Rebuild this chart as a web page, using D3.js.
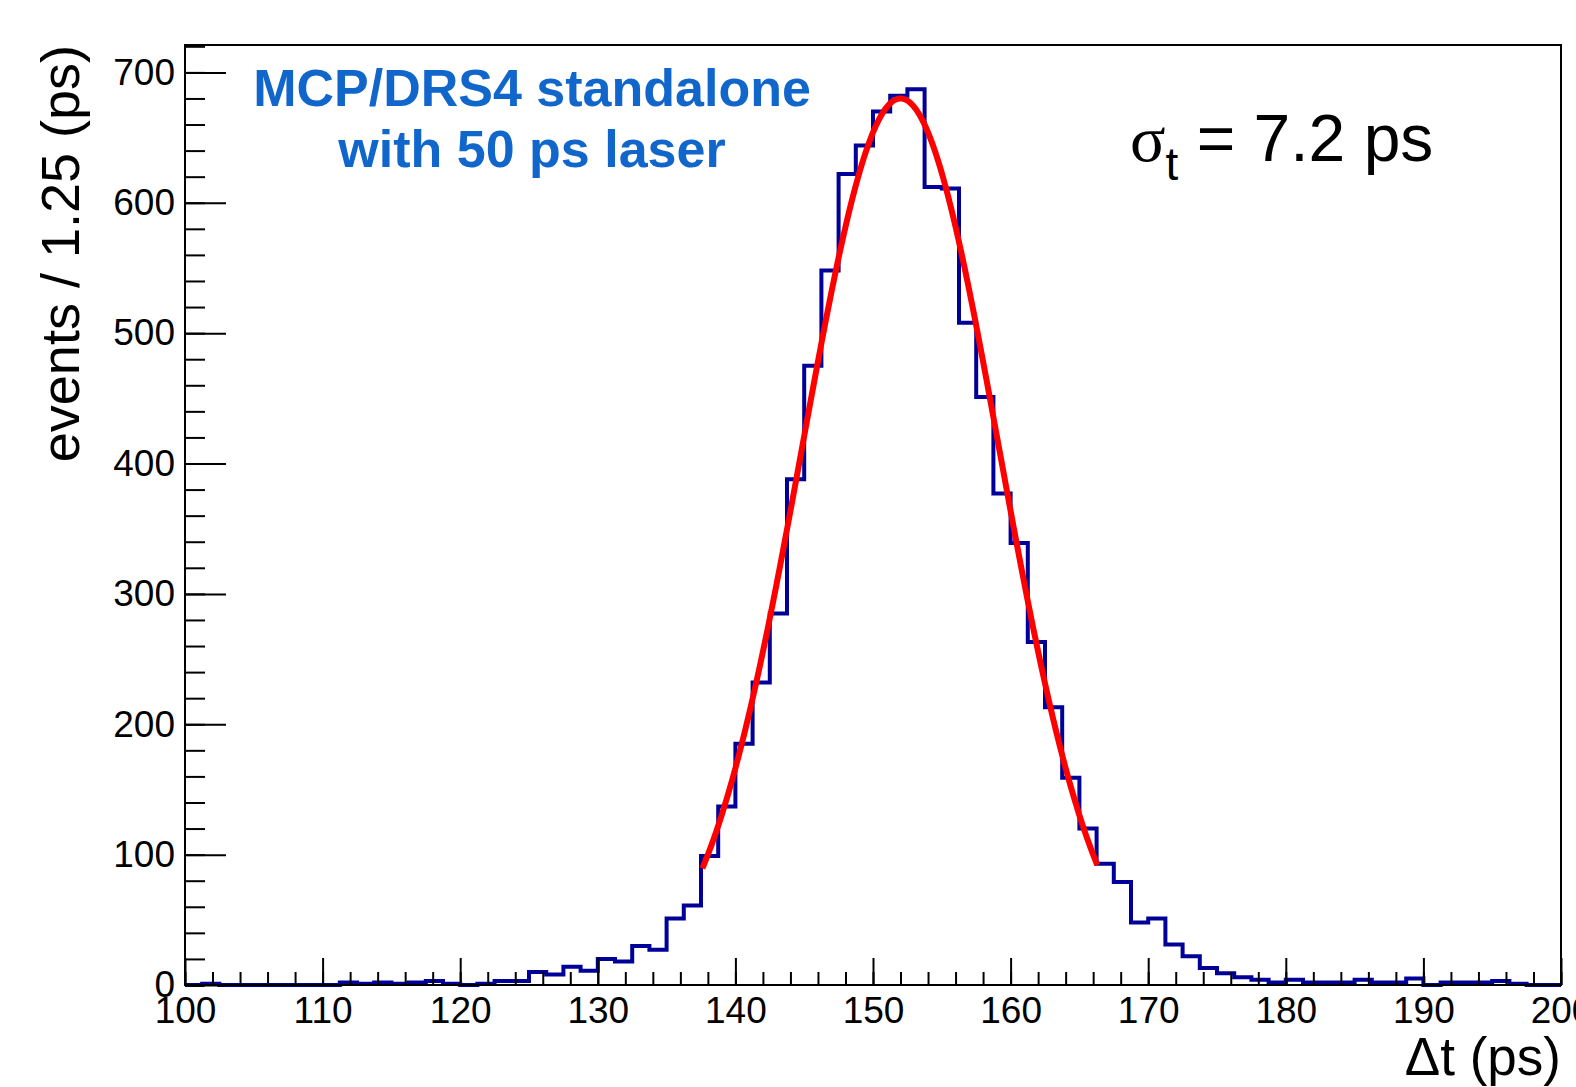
<!DOCTYPE html>
<html>
<head>
<meta charset="utf-8">
<script src="https://cdn.jsdelivr.net/npm/d3@7"></script>
<style>
  body { margin: 0; background: #fff; }
  svg { display: block; font-family: "Liberation Sans", Arial, sans-serif; }
</style>
</head>
<body>
<div id="content"></div>
<script>
// histogram: 80 bins of 1.25 ps between 100 and 200 ps
const binLow = 100;
const binWidth = 1.25;
const counts = [
  0, 1, 0, 0, 0, 0, 0, 0, 0, 2,
  1, 2, 1, 2, 3, 1, 0, 1, 3, 3,
  10, 8, 14, 11, 20, 18, 30, 27, 51, 61,
  99, 137, 185, 232, 285, 388, 475, 548, 622, 644,
  670, 682, 687, 612, 611, 508, 451, 377, 339, 263,
  213, 159, 120, 93, 79, 48, 51, 31, 22, 13,
  9, 6, 4, 2, 4, 2, 2, 2, 4, 2,
  2, 5, 0, 2, 2, 2, 3, 1, 0, 0,
];

// gaussian fit shown in red
const fitAmp = 680;
const fitMean = 152.0;
const fitSigma = 7.15;
const fitRange = [137.6, 166.3];

const xTicksMajor = [100, 110, 120, 130, 140, 150, 160, 170, 180, 190, 200];
const yTicksMajor = [0, 100, 200, 300, 400, 500, 600, 700];

const W = 1576, H = 1087;
const frame = { left: 185, right: 1561, top: 45, bottom: 985 };

const svg = d3
  .select("#content")
  .append("svg")
  .attr("width", W)
  .attr("height", H);

const x = d3.scaleLinear().domain([100, 200]).range([frame.left, frame.right]);
const y = d3.scaleLinear().domain([0, 721]).range([frame.bottom, frame.top]);

// histogram outline
const pts = counts.map((c, i) => [binLow + i * binWidth, c]);
pts.push([binLow + counts.length * binWidth, counts[counts.length - 1]]);

svg
  .append("path")
  .datum(pts)
  .attr("fill", "none")
  .attr("stroke", "#000099")
  .attr("stroke-width", 4)
  .attr(
    "d",
    d3
      .line()
      .x((d) => x(d[0]))
      .y((d) => y(d[1]))
      .curve(d3.curveStepAfter),
  );

// fit curve
const fitPts = d3
  .range(fitRange[0], fitRange[1] + 0.001, 0.1)
  .map((t) => [t, fitAmp * Math.exp(-((t - fitMean) ** 2) / (2 * fitSigma ** 2))]);

svg
  .append("path")
  .datum(fitPts)
  .attr("fill", "none")
  .attr("stroke", "#ff0000")
  .attr("stroke-width", 6)
  .attr(
    "d",
    d3
      .line()
      .x((d) => x(d[0]))
      .y((d) => y(d[1])),
  );

// frame
svg
  .append("rect")
  .attr("x", frame.left)
  .attr("y", frame.top)
  .attr("width", frame.right - frame.left)
  .attr("height", frame.bottom - frame.top)
  .attr("fill", "none")
  .attr("stroke", "#000")
  .attr("stroke-width", 2);

// x axis (ticks point inward)
const xMinor = d3.range(100, 200.01, 2);
svg
  .append("g")
  .attr("transform", `translate(0,${frame.bottom})`)
  .call(d3.axisBottom(x).tickValues(xMinor).tickSize(-13).tickFormat(""))
  .call((g) => g.select(".domain").remove());

svg
  .append("g")
  .attr("class", "x-axis")
  .attr("transform", `translate(0,${frame.bottom})`)
  .call(d3.axisBottom(x).tickValues(xTicksMajor).tickSize(-27).tickPadding(12))
  .call((g) => g.select(".domain").remove());

// y axis
const yMinor = d3.range(0, 721, 20);
svg
  .append("g")
  .attr("transform", `translate(${frame.left},0)`)
  .call(d3.axisLeft(y).tickValues(yMinor).tickSize(-20).tickFormat(""))
  .call((g) => g.select(".domain").remove());

svg
  .append("g")
  .attr("class", "y-axis")
  .attr("transform", `translate(${frame.left},0)`)
  .call(d3.axisLeft(y).tickValues(yTicksMajor).tickSize(-41).tickPadding(10))
  .call((g) => g.select(".domain").remove());

svg.selectAll(".tick line").attr("stroke", "#000").attr("stroke-width", 2);
svg
  .selectAll(".tick text")
  .attr("font-family", "Liberation Sans, Arial, sans-serif")
  .attr("font-size", 37)
  .attr("fill", "#000");

// axis titles
svg
  .append("text")
  .attr("text-anchor", "end")
  .attr("transform", `translate(79,${frame.top}) rotate(-90)`)
  .attr("font-size", 54)
  .text("events / 1.25 (ps)");

svg
  .append("text")
  .attr("text-anchor", "end")
  .attr("x", frame.right)
  .attr("y", 1075)
  .attr("font-size", 53)
  .text("\u0394t (ps)");

// blue label
const blue = "#1166cc";
svg
  .append("text")
  .attr("x", 532)
  .attr("y", 106)
  .attr("text-anchor", "middle")
  .attr("font-size", 52)
  .attr("font-weight", "bold")
  .attr("fill", blue)
  .text("MCP/DRS4 standalone");

svg
  .append("text")
  .attr("x", 532)
  .attr("y", 167)
  .attr("text-anchor", "middle")
  .attr("font-size", 52)
  .attr("font-weight", "bold")
  .attr("fill", blue)
  .text("with 50 ps laser");

// sigma label
const sig = svg
  .append("text")
  .attr("x", 1130)
  .attr("y", 161)
  .attr("font-size", 66)
  .attr("fill", "#000");

sig.append("tspan").attr("font-family", "Liberation Serif, Times, serif").text("\u03c3");
sig.append("tspan").attr("font-size", 46).attr("dy", 19).text("t");
sig.append("tspan").attr("dy", -19).text(" = 7.2 ps");
</script>
</body>
</html>
